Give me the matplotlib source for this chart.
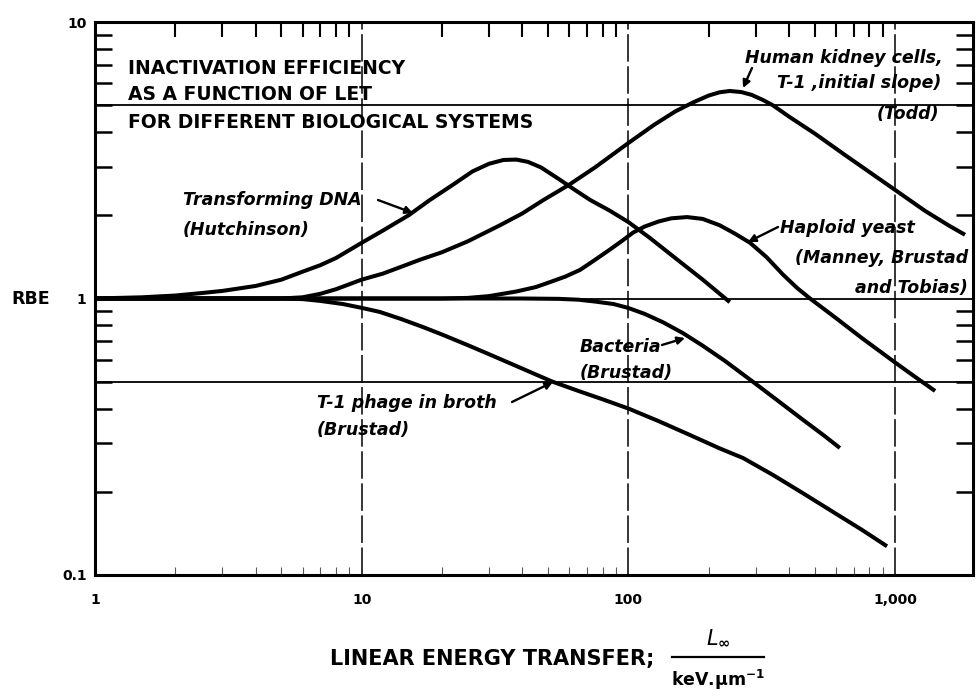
import matplotlib
matplotlib.use('Agg')
import matplotlib.pyplot as plt
from matplotlib.lines import Line2D
from matplotlib.ticker import LogLocator, FixedLocator, FixedFormatter, NullFormatter

plt.rcParams['font.family'] = ['DejaVu Sans']
plt.rcParams['mathtext.default'] = 'bf'

# ---- data (LET in keV/um, RBE) ----
dna_let = [1, 1.5, 2, 2.5, 3, 4, 5, 6, 7, 8, 10, 12, 15, 18, 22, 26, 30, 34, 38, 42,
           47, 55, 63, 72, 85, 100, 120, 150, 190, 240]
dna_rbe = [1.0, 1.01, 1.025, 1.046, 1.065, 1.11, 1.17, 1.25, 1.32, 1.40, 1.59, 1.76, 2.0,
           2.27, 2.58, 2.88, 3.07, 3.17, 3.18, 3.12, 2.98, 2.70, 2.47, 2.27, 2.08, 1.89,
           1.66, 1.40, 1.17, 0.97]

kidney_let = [1, 3, 5, 6, 7, 8, 10, 12, 14, 16.5, 20, 25, 33, 40, 48, 60, 75, 100, 125,
              150, 175, 200, 220, 240, 265, 290, 320, 348, 400, 500, 650, 800, 1000,
              1300, 1600, 1829]
kidney_rbe = [1.0, 1.0, 1.0, 1.01, 1.04, 1.08, 1.17, 1.23, 1.30, 1.38, 1.47, 1.61, 1.84,
              2.03, 2.27, 2.58, 2.98, 3.65, 4.25, 4.75, 5.12, 5.42, 5.57, 5.63, 5.58,
              5.45, 5.22, 5.0, 4.55, 3.95, 3.3, 2.87, 2.47, 2.07, 1.83, 1.70]

yeast_let = [1, 20, 25, 30, 38, 45, 50, 58, 66, 75, 85, 95, 104, 115, 130, 145, 166, 190,
             220, 250, 286, 330, 380, 430, 480, 600, 750, 1000, 1208, 1413]
yeast_rbe = [1.0, 1.0, 1.005, 1.02, 1.06, 1.10, 1.14, 1.20, 1.27, 1.38, 1.50, 1.62, 1.73,
             1.82, 1.90, 1.95, 1.97, 1.94, 1.84, 1.72, 1.59, 1.41, 1.22, 1.09, 1.0, 0.85,
             0.72, 0.587, 0.515, 0.463]

bact_let = [1, 40, 55, 65, 75, 88, 100, 115, 135, 160, 190, 230, 293, 360, 450, 540, 621]
bact_rbe = [1.0, 1.0, 0.997, 0.99, 0.975, 0.955, 0.924, 0.88, 0.82, 0.75, 0.675, 0.595,
            0.5, 0.43, 0.365, 0.32, 0.288]

phage_let = [1, 5, 6, 7, 8.5, 10, 11.7, 14, 17, 20, 25, 30, 38, 45, 52, 65, 80, 100, 130,
             170, 220, 269, 350, 450, 600, 750, 933]
phage_rbe = [1.0, 1.0, 0.995, 0.98, 0.955, 0.925, 0.894, 0.844, 0.788, 0.741, 0.678,
             0.629, 0.570, 0.531, 0.5, 0.463, 0.432, 0.40, 0.36, 0.321, 0.287, 0.265,
             0.2295, 0.198, 0.1666, 0.1458, 0.127]

grid_x = [10, 100, 1000]
grid_y = [0.5, 1, 5]
xtick_vals = [1, 10, 100, 1000]
xtick_labels = ['1', '10', '100', '1,000']
ytick_vals = [0.1, 1, 10]
ytick_labels = ['0.1', '1', '10']

W, H = 976, 698
fig = plt.figure(figsize=(W / 100, H / 100), dpi=100)
ax = fig.add_axes([95 / W, 123 / H, 878 / W, 553 / H])
ax.set_xscale('log')
ax.set_yscale('log')
ax.set_xlim(1, 1960)
ax.set_ylim(0.1, 10)

for gx in grid_x:
    ax.axvline(gx, color='k', lw=1.1, ls=(0, (18, 3)), zorder=1)
for gy in grid_y:
    ax.axhline(gy, color='k', lw=1.3, zorder=1)

lw = 2.9
for xs, ys in [(dna_let, dna_rbe), (kidney_let, kidney_rbe), (yeast_let, yeast_rbe),
               (bact_let, bact_rbe), (phage_let, phage_rbe)]:
    ax.plot(xs, ys, color='k', lw=lw, solid_capstyle='butt', solid_joinstyle='round', zorder=3)

for s in ax.spines.values():
    s.set_linewidth(2.2)

ax.xaxis.set_major_locator(FixedLocator(xtick_vals))
ax.xaxis.set_major_formatter(FixedFormatter(xtick_labels))
ax.yaxis.set_major_locator(FixedLocator(ytick_vals))
ax.yaxis.set_major_formatter(FixedFormatter(ytick_labels))
ax.xaxis.set_minor_locator(LogLocator(base=10, subs=range(2, 10)))
ax.yaxis.set_minor_locator(LogLocator(base=10, subs=range(2, 10)))
ax.xaxis.set_minor_formatter(NullFormatter())
ax.yaxis.set_minor_formatter(NullFormatter())

ax.tick_params(axis='both', which='major', length=0, labelsize=10)
ax.tick_params(axis='x', which='major', pad=13)
ax.tick_params(axis='y', which='major', pad=6)
for lab in ax.get_xticklabels() + ax.get_yticklabels():
    lab.set_fontweight('bold')
ax.tick_params(axis='y', which='minor', direction='in', length=12, width=1.8, left=True, right=True)
ax.tick_params(axis='x', which='minor', direction='in', length=11, width=1.5, top=True, bottom=False)
ax2 = ax.secondary_xaxis('bottom')
ax2.xaxis.set_major_locator(FixedLocator([]))
ax2.xaxis.set_minor_locator(LogLocator(base=10, subs=range(2, 10)))
ax2.xaxis.set_minor_formatter(NullFormatter())
ax2.tick_params(which='minor', direction='in', length=6, width=0.8, color='0.35')
ax2.spines['bottom'].set_visible(False)

ax.set_ylabel('RBE', rotation=0, fontsize=12.5, fontweight='bold', va='center', ha='center')
ax.yaxis.set_label_coords(-0.073, 0.5)

# x-axis title with a stacked fraction
fig.text(330 / W, 1 - 659 / H, 'LINEAR ENERGY TRANSFER;', fontsize=15, fontweight='bold',
         ha='left', va='center')
fig.text(718 / W, 1 - 638 / H, r'$\mathit{L}_{\infty}$', fontsize=15, ha='center', va='center')
fig.add_artist(Line2D([672 / W, 764 / W], [1 - 657 / H, 1 - 657 / H], color='k', lw=1.6,
                      transform=fig.transFigure))
fig.text(718 / W, 1 - 680 / H, r'keV.$\mu$m$^{-1}$', fontsize=12.5, fontweight='bold',
         ha='center', va='center')


def fx(px):
    return (px - 95) / 878


def fy(py):
    return (575 - py) / 553


tkw = dict(transform=ax.transAxes, fontsize=13.5, fontweight='bold', va='center', ha='left', zorder=5)
ax.text(fx(128), fy(68), 'INACTIVATION EFFICIENCY', **tkw)
ax.text(fx(128), fy(95), 'AS A FUNCTION OF LET', **tkw)
ax.text(fx(128), fy(123), 'FOR DIFFERENT BIOLOGICAL SYSTEMS', **tkw)

lkw = dict(transform=ax.transAxes, fontsize=12.5, fontweight='bold', style='italic', va='center', zorder=5)
ax.text(fx(943), fy(58), 'Human kidney cells,', ha='right', **lkw)
ax.text(fx(941), fy(83), 'T-1 ,initial slope)', ha='right', **lkw)
ax.text(fx(939), fy(114), '(Todd)', ha='right', **lkw)
ax.text(fx(183), fy(200), 'Transforming DNA', ha='left', **lkw)
ax.text(fx(183), fy(230), '(Hutchinson)', ha='left', **lkw)
ax.text(fx(780), fy(228), 'Haploid yeast', ha='left', **lkw)
ax.text(fx(968), fy(258), '(Manney, Brustad', ha='right', **lkw)
ax.text(fx(968), fy(288), 'and Tobias)', ha='right', **lkw)
ax.text(fx(580), fy(347), 'Bacteria', ha='left', **lkw)
ax.text(fx(580), fy(373), '(Brustad)', ha='left', **lkw)
ax.text(fx(317), fy(403), 'T-1 phage in broth', ha='left', **lkw)
ax.text(fx(317), fy(430), '(Brustad)', ha='left', **lkw)

akw = dict(arrowstyle='-|>', lw=1.7, color='k', mutation_scale=11, shrinkA=0, shrinkB=0)
for (x0, y0), (x1, y1) in [((752, 68), (743, 88)), ((378, 200), (413, 213)),
                           ((778, 227), (748, 242)), ((662, 345), (685, 338)),
                           ((512, 402), (553, 382))]:
    ax.annotate('', xy=(fx(x1), fy(y1)), xytext=(fx(x0), fy(y0)),
                xycoords='axes fraction', textcoords='axes fraction', arrowprops=akw, zorder=6)

fig.savefig('out.png', dpi=100)
